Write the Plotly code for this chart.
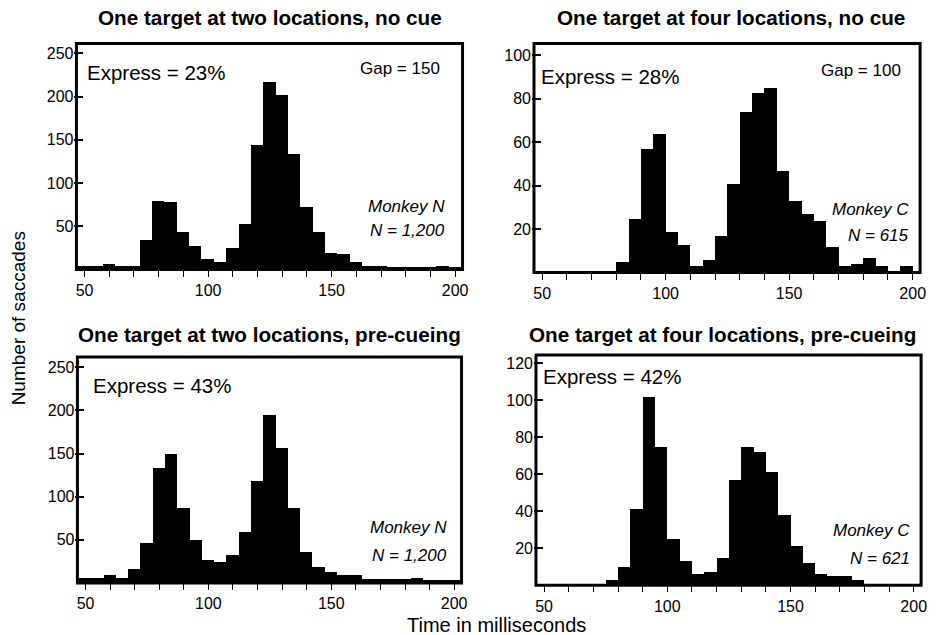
import plotly.graph_objects as go

W, H = 938, 635
FONT = "Liberation Sans, Arial, Helvetica, sans-serif"

# Saccade latency histograms, 5 ms bins (bin centres in ms, counts per bin)
two_loc_centres = [50, 55, 60, 65, 70, 75, 80, 85, 90, 95, 100, 105, 110, 115, 120,
                   125, 130, 135, 140, 145, 150, 155, 160, 165, 170, 175, 180, 185,
                   190, 195, 200]
two_loc_no_cue = [5, 5, 7, 5, 5, 35, 80, 79, 44, 28, 13, 9, 25, 53, 145,
                  218, 202, 134, 73, 44, 20, 18, 9, 5, 5, 4, 4, 4,
                  4, 5, 4]
two_loc_precue = [6, 6, 9, 6, 16, 46, 133, 150, 87, 50, 27, 24, 33, 59, 118,
                  195, 157, 87, 36, 19, 13, 9, 9, 5, 5, 5, 5, 6,
                  4, 4, 4]

four_loc_no_cue_centres = [82.5, 87.5, 92.5, 97.5, 102.5, 107.5, 112.5, 117.5,
                           122.5, 127.5, 132.5, 137.5, 142.5, 147.5, 152.5, 157.5,
                           162.5, 167.5, 172.5, 177.5, 182.5, 187.5, 192.5, 197.5]
four_loc_no_cue = [5, 25, 57, 64, 19, 13, 3, 6,
                   17, 41, 74, 83, 85, 47, 33, 27,
                   24, 12, 3, 4, 7, 3, 0, 3]

four_loc_precue_centres = [77.5, 82.5, 87.5, 92.5, 97.5, 102.5, 107.5, 112.5,
                           117.5, 122.5, 127.5, 132.5, 137.5, 142.5, 147.5, 152.5,
                           157.5, 162.5, 167.5, 172.5, 177.5]
four_loc_precue = [3, 10, 41, 102, 75, 25, 13, 6,
                   7, 15, 57, 75, 72, 61, 38, 21,
                   12, 6, 5, 5, 3]

titles = ["One target at two locations, no cue",
          "One target at four locations, no cue",
          "One target at two locations, pre-cueing",
          "One target at four locations, pre-cueing"]
express = ["Express = 23%", "Express = 28%", "Express = 43%", "Express = 42%"]
gaps = ["Gap = 150", "Gap = 100", None, None]
monkeys = ["Monkey N", "Monkey C", "Monkey N", "Monkey C"]
counts = ["N = 1,200", "N = 615", "N = 1,200", "N = 621"]
y_ticks = [[50, 100, 150, 200, 250], [20, 40, 60, 80, 100],
           [50, 100, 150, 200, 250], [20, 40, 60, 80, 100, 120]]
x_ticks = [50, 100, 150, 200]

series = [(two_loc_centres, two_loc_no_cue),
          (four_loc_no_cue_centres, four_loc_no_cue),
          (two_loc_centres, two_loc_precue),
          (four_loc_precue_centres, four_loc_precue)]


def fx(px):
    return px / W


def fy(py):
    return 1 - py / H


# Panel frames in pixels: left, right, top, bottom, y-axis top value
frames = [(76, 465, 43.5, 269.5, 261.5),
          (537, 926, 43.5, 272.5, 105.3),
          (77, 464, 357, 583, 262),
          (539, 927, 355, 585.3, 124.5)]

# Text placement (pixels): express-left, express-y, gap-right, gap-y,
# monkey-right, monkey-y, count-y, title-x, title-y
text_pos = [(85, 72.5, 444, 69, 449, 206.5, 230, 271, 17),
            (542, 76.5, 909, 71, 917, 209, 235.5, 735, 17),
            (91, 385, None, None, 451, 527.5, 555, 271, 335),
            (544, 376.5, None, None, 918, 530.5, 558, 727, 334)]

fig = go.Figure()
layout = dict(
    width=W, height=H,
    margin=dict(l=0, r=0, t=0, b=0),
    paper_bgcolor="white", plot_bgcolor="white",
    showlegend=False, bargap=0,
    font=dict(family=FONT, color="black"),
)
annotations = []
shapes = []

for i, ((xs, ys), (l, r, t, b, ytop)) in enumerate(zip(series, frames)):
    n = "" if i == 0 else str(i + 1)
    fig.add_trace(go.Bar(x=xs, y=ys, width=5,
                         marker=dict(color="black", line=dict(width=0)),
                         xaxis="x" + n, yaxis="y" + n, hoverinfo="skip"))
    layout["xaxis" + n] = dict(
        domain=[fx(l), fx(r)], anchor="y" + n, range=[46.7, 203],
        showline=False, showgrid=False, zeroline=False,
        tickmode="array", tickvals=x_ticks,
        ticks="outside", ticklen=6, tickwidth=1, tickcolor="black",
        minor=dict(ticks="outside", tick0=50, dtick=10, ticklen=6,
                   tickwidth=1, tickcolor="black", showgrid=False),
        tickfont=dict(family=FONT, size=16, color="black"),
    )
    # y axis placed at the heavy frame; inside ticks reach past its inner edge
    layout["yaxis" + n] = dict(
        domain=[fy(b), fy(t)], anchor="free", position=fx(l - 3), range=[0, ytop],
        showline=False, showgrid=False, zeroline=False,
        tickmode="array", tickvals=y_ticks[i],
        ticks="inside", ticklen=9, tickwidth=1.5, tickcolor="black",
        tickfont=dict(family=FONT, size=16, color="black"),
    )
    # heavy box round each panel
    shapes.append(dict(type="rect", xref=f"x{n} domain", yref=f"y{n} domain",
                       x0=0, x1=1, y0=0, y1=1, layer="above",
                       line=dict(color="black", width=3)))

    ex, ey, gx, gy, mx, my, cy, tx, ty = text_pos[i]
    annotations.append(dict(text=titles[i], x=fx(tx), y=fy(ty), xref="paper", yref="paper",
                            xanchor="center", yanchor="middle", showarrow=False,
                            font=dict(family=FONT, size=20.7, color="black", weight="bold")))
    annotations.append(dict(text=express[i], x=fx(ex), y=fy(ey), xref="paper", yref="paper",
                            xanchor="left", yanchor="middle", showarrow=False,
                            font=dict(family=FONT, size=20.5, color="black")))
    if gaps[i]:
        annotations.append(dict(text=gaps[i], x=fx(gx), y=fy(gy), xref="paper", yref="paper",
                                xanchor="right", yanchor="middle", showarrow=False,
                                font=dict(family=FONT, size=17, color="black")))
    annotations.append(dict(text="<i>" + monkeys[i] + "</i>", x=fx(mx), y=fy(my),
                            xref="paper", yref="paper", xanchor="right", yanchor="middle",
                            showarrow=False, font=dict(family=FONT, size=17, color="black")))
    annotations.append(dict(text="<i>" + counts[i] + "</i>", x=fx(mx), y=fy(cy),
                            xref="paper", yref="paper", xanchor="right", yanchor="middle",
                            showarrow=False, font=dict(family=FONT, size=17, color="black")))

annotations.append(dict(text="Number of saccades", x=fx(17.5), y=fy(318), xref="paper",
                        yref="paper", xanchor="center", yanchor="middle", textangle=-90,
                        showarrow=False, font=dict(family=FONT, size=19, color="black")))
annotations.append(dict(text="Time in milliseconds", x=fx(499), y=fy(624.5), xref="paper",
                        yref="paper", xanchor="center", yanchor="middle",
                        showarrow=False, font=dict(family=FONT, size=20, color="black")))

layout["annotations"] = annotations
layout["shapes"] = shapes
fig.update_layout(**layout)
fig.write_html("out.html")
